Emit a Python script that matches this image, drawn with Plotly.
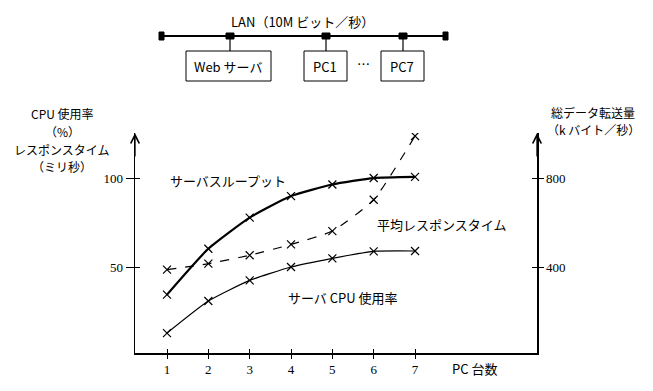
import plotly.graph_objects as go

pc_count = [1, 2, 3, 4, 5, 6, 7]
throughput_kbps = [276, 482, 622, 719, 771, 800, 805]
response_ms = [48.5, 51.9, 56.6, 62.7, 70.2, 87.8, 123.6]
cpu_pct = [12.9, 30.9, 42.5, 50.0, 54.9, 58.8, 59.0]
left_ticks = [50, 100]
right_ticks = [400, 800]

W, H = 653, 391
L, R, T, B = 135, 537, 133, 353  # plot area in pixels

def px(x):
    return (x - L) / (R - L)

def py(y):
    return (B - y) / (B - T)

FONT = "Liberation Serif, Noto Sans CJK JP"
JP = "Noto Sans CJK JP, Liberation Serif"

fig = go.Figure()
mk = dict(symbol="x-thin", size=8, line=dict(width=1.2, color="black"), color="black")
fig.add_trace(go.Scatter(x=pc_count, y=throughput_kbps, yaxis="y2", mode="lines+markers", hoverinfo="skip",
                         line=dict(color="black", width=2.2, shape="spline", smoothing=0.5), marker=mk))
fig.add_trace(go.Scatter(x=pc_count, y=response_ms, mode="lines+markers", hoverinfo="skip",
                         line=dict(color="black", width=1.2, dash="dash", shape="spline", smoothing=0.5), marker=mk))
fig.add_trace(go.Scatter(x=pc_count, y=cpu_pct, mode="lines+markers", hoverinfo="skip",
                         line=dict(color="black", width=1.2, shape="spline", smoothing=0.5), marker=mk))

yr = [1.7, 125.3]
xr = [0.226, 9.95]
tickfont = dict(family=FONT, size=13, color="black")
fig.update_layout(
    width=W, height=H, showlegend=False,
    paper_bgcolor="white", plot_bgcolor="white",
    margin=dict(l=L, r=W - R, t=T, b=H - B),
    xaxis=dict(range=xr, tickvals=pc_count, ticks="outside", ticklen=4, tickcolor="black",
               showline=True, linecolor="black", linewidth=1.5, showgrid=False, zeroline=False,
               tickfont=tickfont, fixedrange=True),
    xaxis2=dict(range=xr, overlaying="x", anchor="y", side="bottom", tickvals=pc_count,
                ticks="inside", ticklen=4, tickcolor="black", showticklabels=False,
                showline=False, showgrid=False, zeroline=False),
    yaxis=dict(range=yr, tickvals=left_ticks, ticks="outside", ticklen=8, tickcolor="black",
               showline=True, linecolor="black", linewidth=1.5, showgrid=False, zeroline=False,
               tickfont=tickfont),
    yaxis3=dict(range=yr, overlaying="y", anchor="x", side="left", tickvals=left_ticks,
                ticks="inside", ticklen=5, tickcolor="black", showticklabels=False,
                showline=False, showgrid=False, zeroline=False),
    yaxis2=dict(range=[yr[0] * 8, yr[1] * 8], overlaying="y", side="right", anchor="x",
                tickvals=right_ticks, ticks="outside", ticklen=5, tickcolor="black",
                showline=True, linecolor="black", linewidth=1.5, showgrid=False, zeroline=False,
                tickfont=tickfont),
    yaxis4=dict(range=[yr[0] * 8, yr[1] * 8], overlaying="y", side="right", anchor="x",
                tickvals=right_ticks, ticks="inside", ticklen=5, tickcolor="black",
                showticklabels=False, showline=False, showgrid=False, zeroline=False),
)
# dummy traces to activate overlay axes
fig.add_trace(go.Scatter(x=[None], y=[None], xaxis="x2", yaxis="y3", showlegend=False, hoverinfo="skip"))
fig.add_trace(go.Scatter(x=[None], y=[None], yaxis="y4", showlegend=False, hoverinfo="skip"))

ann = []
def text(x, y, s, size=13, xanchor="center", font=JP, yanchor="middle"):
    ann.append(dict(x=px(x), y=py(y), xref="paper", yref="paper", text=s, showarrow=False,
                    xanchor=xanchor, yanchor=yanchor, align="center",
                    font=dict(family=font, size=size, color="black")))

# axis arrows
for ax_x in (0, 1):
    ann.append(dict(x=ax_x, y=1, xref="paper", yref="paper", ax=0, ay=25, showarrow=True,
                    arrowhead=5, arrowsize=1.3, arrowwidth=1.3, arrowcolor="black", text=""))

# left axis title
text(62, 114, "CPU 使用率", size=12)
text(62, 131.5, "（%）", size=12)
text(62, 149, "レスポンスタイム", size=12)
text(62, 166.5, "（ミリ秒）", size=12)
# right axis title
text(593, 112, "総データ転送量", size=12)
text(593, 129.5, "（k バイト／秒）", size=12)
# x axis title
text(450, 368, "PC 台数", xanchor="left")
# series labels
text(228, 180, "サーバスループット")
text(441, 224, "平均レスポンスタイム")
text(343, 297, "サーバ CPU 使用率")

# network diagram
text(302, 22, "LAN（10M ビット／秒）")
text(228, 66, "Web サーバ")
text(325, 66, "PC1")
text(363, 64, "…")
text(402, 66, "PC7")

shapes = []
def line(x0, y0, x1, y1, w=1.5):
    shapes.append(dict(type="line", xref="paper", yref="paper", x0=px(x0), y0=py(y0),
                       x1=px(x1), y1=py(y1), line=dict(color="black", width=w)))
def rect(x0, y0, x1, y1, fill=None, w=1):
    shapes.append(dict(type="rect", xref="paper", yref="paper", x0=px(x0), y0=py(y0),
                       x1=px(x1), y1=py(y1), line=dict(color="black", width=w),
                       fillcolor=fill if fill else "rgba(0,0,0,0)"))

line(162, 36, 445, 36, 1.8)
rect(159, 32, 164, 40, fill="black")
rect(443, 32, 448, 40, fill="black")
for cx in (230, 326, 403):
    line(cx, 36, cx, 51, 1.2)
    rect(cx - 4, 33, cx + 4, 39, fill="black")
rect(186, 51, 271, 81)
rect(304, 51, 347, 81)
rect(381, 51, 424, 81)

fig.update_layout(annotations=ann, shapes=shapes, hovermode=False)
fig.write_html("out.html", config={"displayModeBar": False, "staticPlot": True},
               post_script="document.body.style.margin='0';document.body.style.overflow='hidden';")
